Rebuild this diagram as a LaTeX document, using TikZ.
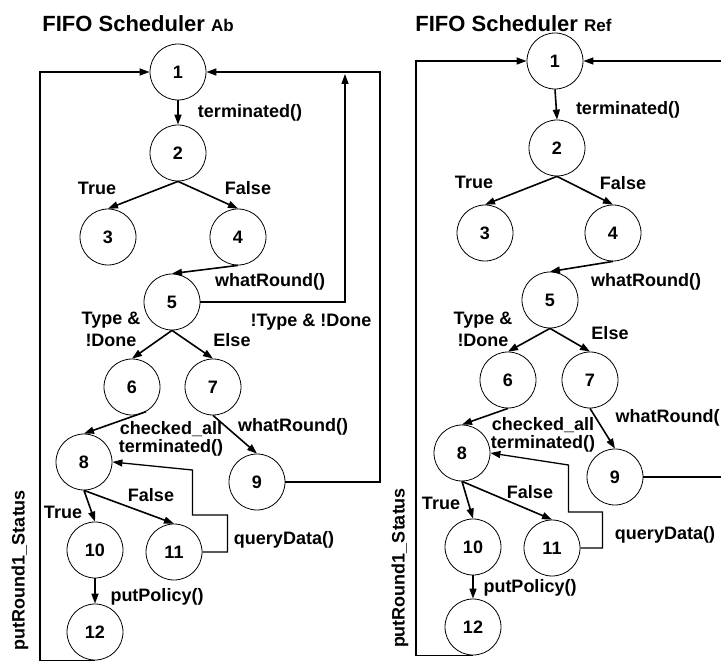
\documentclass[tikz,border=0pt]{standalone}
\usepackage{fontspec}
\setmainfont{Liberation Sans}
\usetikzlibrary{arrows.meta}
\tikzset{
  fifo/.style={
    x=1pt, y=-1pt,
    >={Triangle[length=10pt,width=7pt]},
    line width=0.8pt
  },
  snode/.style={                   % state of the scheduler
    circle, draw, line width=0.8pt,
    minimum size=56pt, inner sep=0pt,
    font=\bfseries\fontsize{18}{18}\selectfont
  },
  flow/.style={->, line width=1.6pt},
  back/.style={line width=1.3pt},
  elabel/.style={
    inner sep=0pt, align=center,
    font=\bfseries\fontsize{18}{22}\selectfont
  },
  tightlabel/.style={elabel, font=\bfseries\fontsize{18}{18}\selectfont},
  ftitle/.style={anchor=base west, inner sep=0pt, font=\bfseries\fontsize{22}{22}\selectfont}
}
\newcommand{\fifosub}[1]{{\fontsize{17}{17}\selectfont #1}}

\begin{document}
\begin{tikzpicture}[fifo]
\useasboundingbox (0,0) rectangle (721,663);

% ---- FIFO Scheduler Ab ----
\node[ftitle] (ta) at (42,32) {FIFO Scheduler \fifosub{Ab}};

\node[snode] (a1)  at (178,72)  {1};
\node[snode] (a2)  at (178,153) {2};
\node[snode] (a3)  at (108,237) {3};
\node[snode] (a4)  at (238,237) {4};
\node[snode] (a5)  at (172,302) {5};
\node[snode] (a6)  at (132,387) {6};
\node[snode] (a7)  at (213,387) {7};
\node[snode] (a8)  at (84,462)  {8};
\node[snode] (a9)  at (257,482) {9};
\node[snode] (a10) at (95,550)  {10};
\node[snode] (a11) at (174,552) {11};
\node[snode] (a12) at (95,632)  {12};

\coordinate (aleft)  at (40,72);
\coordinate (aright) at (380,72);
\coordinate (aup)    at (345,74);

\draw[flow] (a1.south) -- (a2.north);
\draw[flow] (a2.south) -- (a3.north);
\draw[flow] (a2.south) -- (a4.north);
\draw[flow] (a4.south) -- (a5.north);
\draw[flow] (a5.south) -- (a6.north);
\draw[flow] (a5.south) -- (a7.north);
\draw[flow] (a6.-60) -- (a8.north);
\draw[flow] (a7.south) -- (a9.north);
\draw[flow] (a8.south) -- (a10.north);
\draw[flow] (a8.south) -- (a11.north);
\draw[flow] (a10.south) -- (a12.north);

% loops back
\draw[back,->] (a12.south) -| (aleft) |- (a1.west);
\draw[back,->] (a5.east) -| (aup);
\draw[back,->] (a9.east) -| (aright) |- (a1.east);
\draw[back,->] (a11.east) -- ++(25,0) -- ++(0,-37) -- ++(-35,0) -- ++(0,-45) -- (a8.east);

\node[elabel] (la1)  at (250,113) {terminated()};
\node[elabel] (la2)  at (97,188)  {True};
\node[elabel] (la3)  at (248,188) {False};
\node[elabel] (la4)  at (270,282) {whatRound()};
\node[elabel] (la5)  at (311,322) {!Type \& !Done};
\node[elabel] (la6)  at (111,329) {Type \&\\!Done};
\node[elabel] (la7)  at (232,340) {Else};
\node[tightlabel] (la8) at (171,439) {checked\_all\\terminated()};
\node[elabel] (la9)  at (293,427) {whatRound()};
\node[elabel] (la10) at (151,495) {False};
\node[elabel] (la11) at (63,512)  {True};
\node[elabel] (la12) at (284,540) {queryData()};
\node[elabel] (la13) at (157,597) {putPolicy()};
\node[elabel, rotate=90] (la14) at (20,570) {putRound1\_Status};

% ---- FIFO Scheduler Ref ----
\node[ftitle] (tr) at (415,32) {FIFO Scheduler \fifosub{Ref}};

\node[snode] (r1)  at (555,61)  {1};
\node[snode] (r2)  at (557,148) {2};
\node[snode] (r3)  at (485,233) {3};
\node[snode] (r4)  at (613,233) {4};
\node[snode] (r5)  at (550,300) {5};
\node[snode] (r6)  at (508,380) {6};
\node[snode] (r7)  at (590,380) {7};
\node[snode] (r8)  at (462,453) {8};
\node[snode] (r9)  at (615,477) {9};
\node[snode] (r10) at (473,547) {10};
\node[snode] (r11) at (552,548) {11};
\node[snode] (r12) at (473,627) {12};

\coordinate (rleft) at (416,61);
\coordinate (redge) at (721,61);

\draw[flow] (r1.south) -- (r2.north);
\draw[flow] (r2.south) -- (r3.north);
\draw[flow] (r2.south) -- (r4.north);
\draw[flow] (r4.south) -- (r5.north);
\draw[flow] (r5.south) -- (r6.north);
\draw[flow] (r5.south) -- (r7.north);
\draw[flow] (r6.south) -- (r8.north);
\draw[flow] (r7.south) -- (r9.north);
\draw[flow] (r8.south) -- (r10.north);
\draw[flow] (r8.south) -- (r11.north);
\draw[flow] (r10.south) -- (r12.north);

% loops back
\draw[back,->] (r12.south) -| (rleft) |- (r1.west);
\draw[back,->] (redge) -- (r1.east);
\draw[back] (r9.east) -- (r9.east -| redge);
\draw[back,->] (r11.east) -- ++(22,0) -- ++(0,-36) -- ++(-34,0) -- ++(0,-47) -- (r8.east);

\node[elabel] (lr1)  at (628,110) {terminated()};
\node[elabel] (lr2)  at (474,182) {True};
\node[elabel] (lr3)  at (623,183) {False};
\node[elabel] (lr4)  at (646,282) {whatRound()};
\node[elabel] (lr6)  at (483,329) {Type \&\\!Done};
\node[elabel] (lr7)  at (610,333) {Else};
\node[tightlabel] (lr8) at (543,435) {checked\_all\\terminated()};
\node[elabel, anchor=east] (lr9) at (720,418) {whatRound(};
\node[elabel] (lr10) at (530,492) {False};
\node[elabel] (lr11) at (441,503) {True};
\node[elabel] (lr12) at (665,535) {queryData()};
\node[elabel] (lr13) at (530,588) {putPolicy()};
\node[elabel, rotate=90] (lr14) at (400,568) {putRound1\_Status};
\end{tikzpicture}
\end{document}
